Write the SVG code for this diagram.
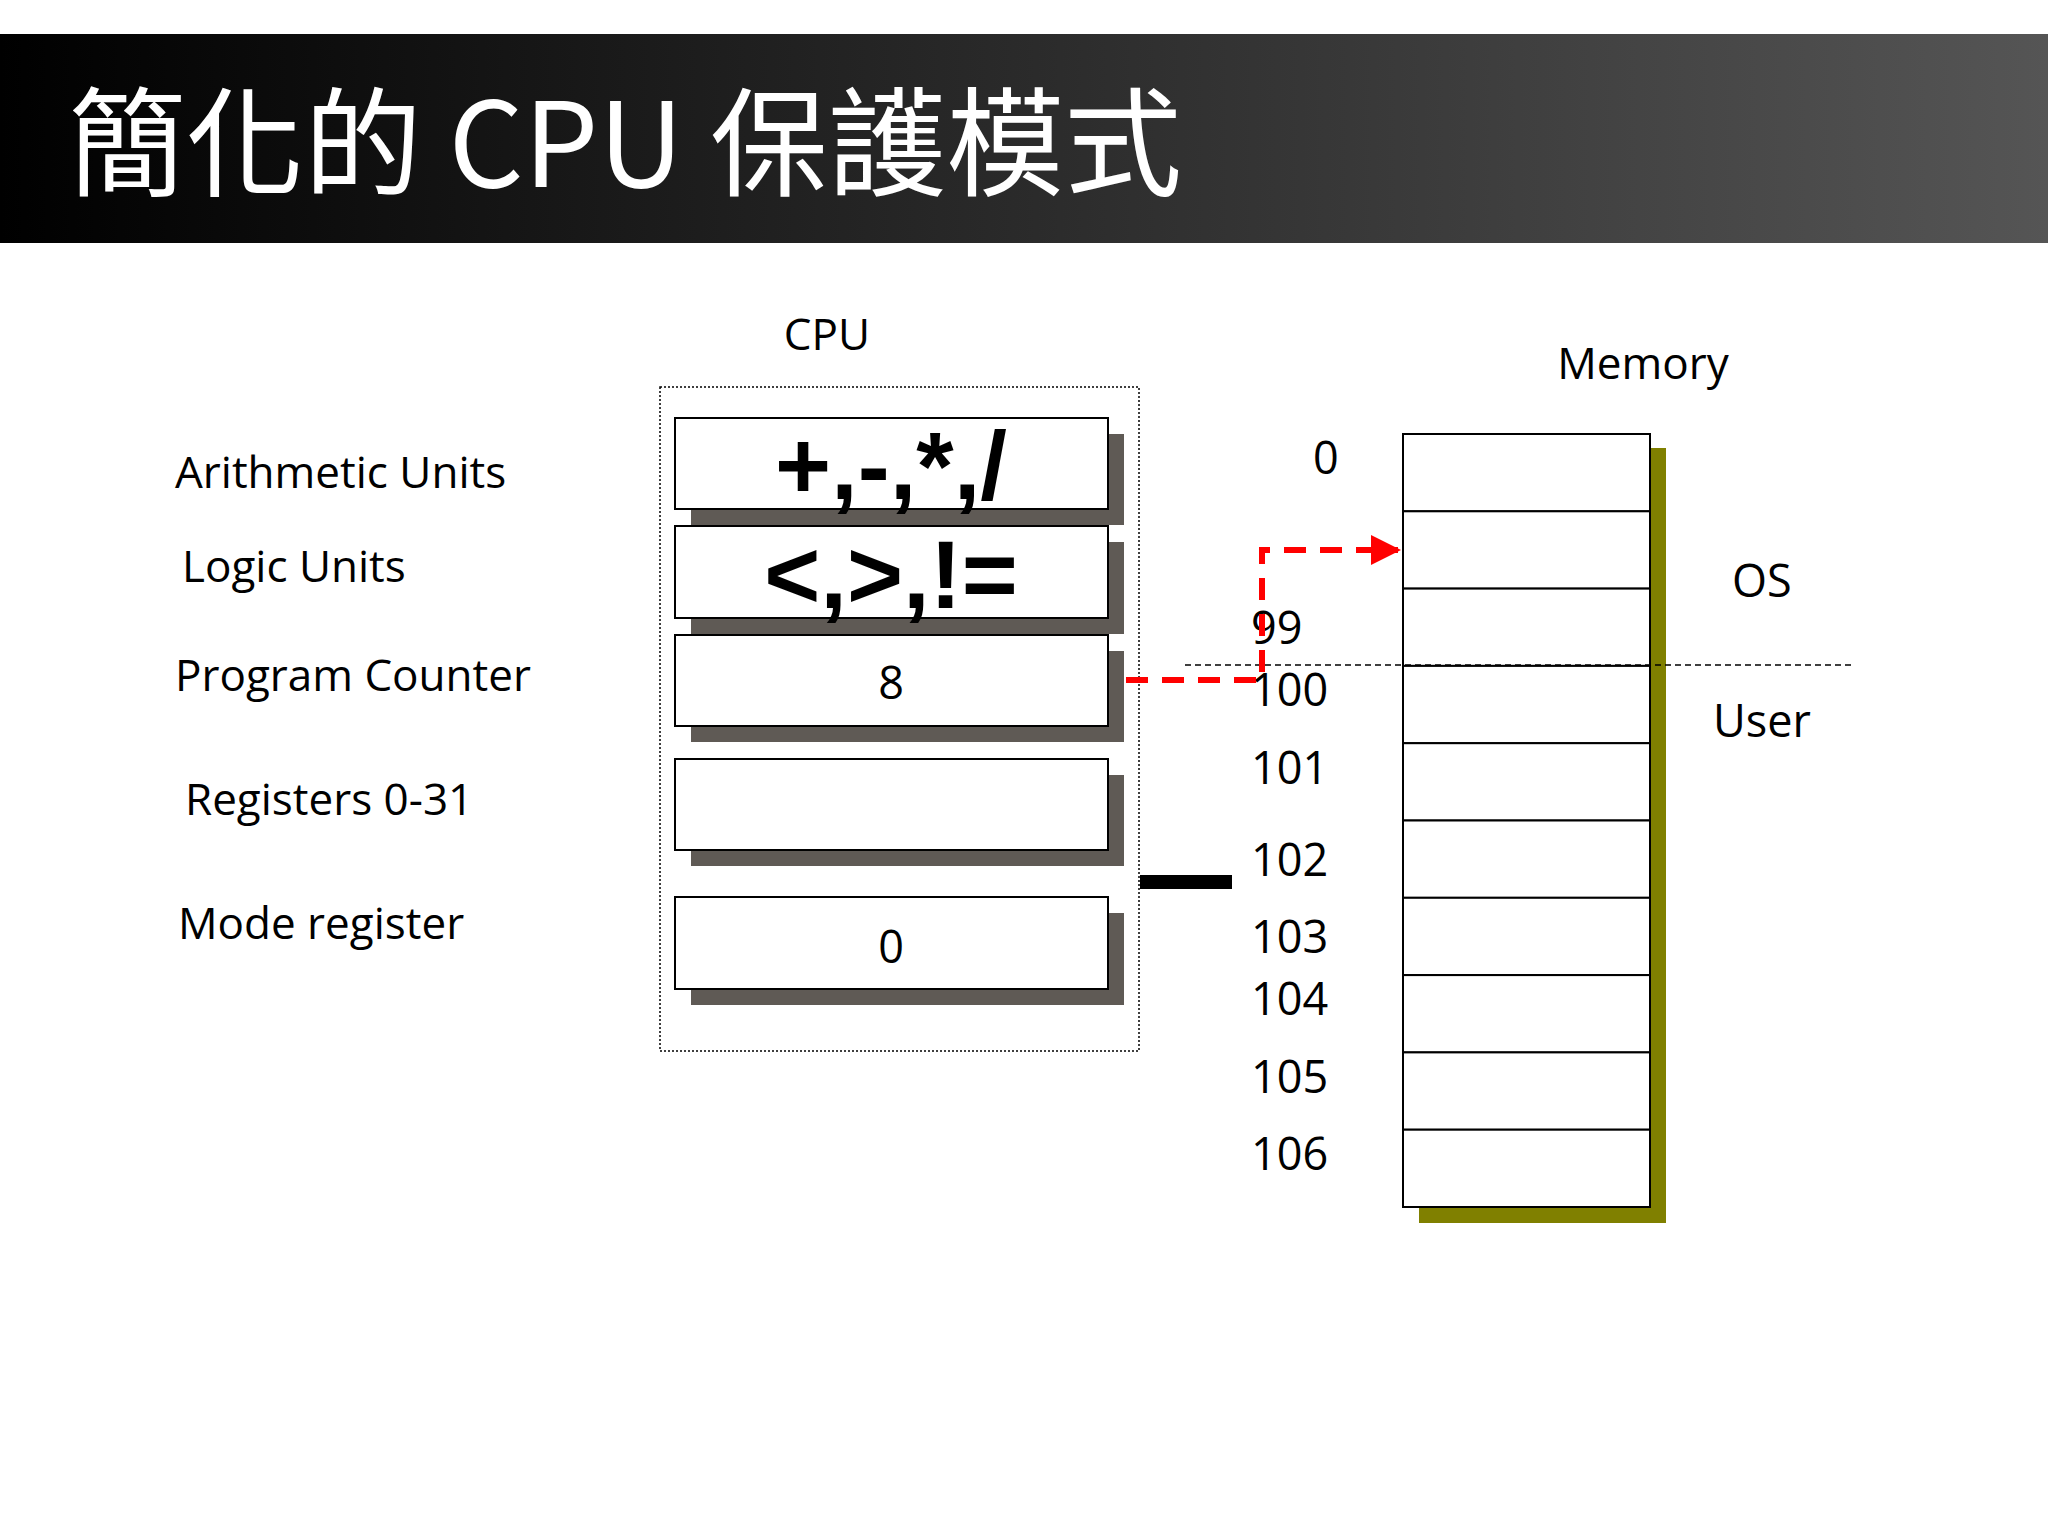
<svg xmlns="http://www.w3.org/2000/svg" width="2048" height="1535" viewBox="0 0 2048 1535">
<defs>
<linearGradient id="tb" x1="0" x2="1" y1="0" y2="0"><stop offset="0" stop-color="#000"/><stop offset="1" stop-color="#555"/></linearGradient>
<marker id="ar" markerWidth="6" markerHeight="6" refX="4.5" refY="3" orient="auto" markerUnits="strokeWidth"><path d="M0,0.5 L5,3 L0,5.5 z" fill="#f00"/></marker>
</defs>
<style>
text{font-family:"Open Sans","Noto Sans","Noto Sans CJK TC",sans-serif;fill:#000}
.lab{font-size:44px}
.reg{fill:#fff;stroke:#000;stroke-width:2}
.sh{fill:#5f5a55}
.cell{fill:#fff;stroke:#000;stroke-width:2}
.big{font-family:"Liberation Sans",sans-serif;font-weight:bold;font-size:96px;text-anchor:middle}
.num{font-size:45px}
</style>
<rect width="2048" height="1535" fill="#fff"/>
<rect x="0" y="34" width="2048" height="209" fill="url(#tb)"/>
<text x="68" y="187" style="font-size:118px;fill:#fff;font-family:'Noto Sans CJK TC','Open Sans',sans-serif">簡化的 CPU 保護模式</text>
<text x="827" y="350" class="lab" text-anchor="middle">CPU</text>
<text x="1643" y="379" class="lab" text-anchor="middle">Memory</text>
<g id="labels">
<text x="175" y="488" class="lab">Arithmetic Units</text>
<text x="182" y="582" class="lab">Logic Units</text>
<text x="175" y="691" class="lab">Program Counter</text>
<text x="185" y="815" class="lab">Registers 0-31</text>
<text x="178" y="939" class="lab">Mode register</text>
</g>
<g id="cpu">
<rect x="660" y="387" width="479" height="664" fill="none" stroke="#000" stroke-width="1.5" stroke-dasharray="2 2"/>
<g id="arith"><rect x="691" y="434" width="433" height="91" class="sh"/><rect x="675" y="418" width="433" height="91" class="reg"/><text x="891" y="499" class="big">+,-,*,/</text></g>
<g id="logic"><rect x="691" y="542" width="433" height="92" class="sh"/><rect x="675" y="526" width="433" height="92" class="reg"/><text x="891" y="608" class="big">&lt;,&gt;,!=</text></g>
<g id="pc"><rect x="691" y="651" width="433" height="91" class="sh"/><rect x="675" y="635" width="433" height="91" class="reg"/><text x="891" y="699" class="num" text-anchor="middle">8</text></g>
<g id="regs"><rect x="691" y="775" width="433" height="91" class="sh"/><rect x="675" y="759" width="433" height="91" class="reg"/></g>
<g id="mode"><rect x="691" y="913" width="433" height="92" class="sh"/><rect x="675" y="897" width="433" height="92" class="reg"/><text x="891" y="963" class="num" text-anchor="middle">0</text></g>
</g>
<g id="memory">
<rect x="1419" y="448" width="247" height="775" fill="#808000"/>
<rect x="1403" y="434" width="247" height="77.3" class="cell"/>
<rect x="1403" y="511.3" width="247" height="77.3" class="cell"/>
<rect x="1403" y="588.6" width="247" height="77.3" class="cell"/>
<rect x="1403" y="665.9" width="247" height="77.3" class="cell"/>
<rect x="1403" y="743.2" width="247" height="77.3" class="cell"/>
<rect x="1403" y="820.5" width="247" height="77.3" class="cell"/>
<rect x="1403" y="897.8" width="247" height="77.3" class="cell"/>
<rect x="1403" y="975.1" width="247" height="77.3" class="cell"/>
<rect x="1403" y="1052.4" width="247" height="77.3" class="cell"/>
<rect x="1403" y="1129.7" width="247" height="77.3" class="cell"/>
<text x="1313" y="474" class="num">0</text>
<text x="1251" y="644" class="num">99</text>
<text x="1251" y="706" class="num">100</text>
<text x="1251" y="784" class="num">101</text>
<text x="1251" y="876" class="num">102</text>
<text x="1251" y="953" class="num">103</text>
<text x="1251" y="1015" class="num">104</text>
<text x="1251" y="1093" class="num">105</text>
<text x="1251" y="1170" class="num">106</text>
<text x="1732" y="597" class="num">OS</text>
<text x="1713" y="737" class="num">User</text>
</g>
<g id="connectors">
<line x1="1185" y1="665" x2="1852" y2="665" stroke="#000" stroke-width="1.5" stroke-dasharray="6 4"/>
<polyline points="1126,680 1262,680 1262,550 1398,550" fill="none" stroke="#f00" stroke-width="6" stroke-dasharray="22 14" marker-end="url(#ar)"/>
<line x1="1140" y1="882" x2="1232" y2="882" stroke="#000" stroke-width="14"/>
</g>
</svg>
